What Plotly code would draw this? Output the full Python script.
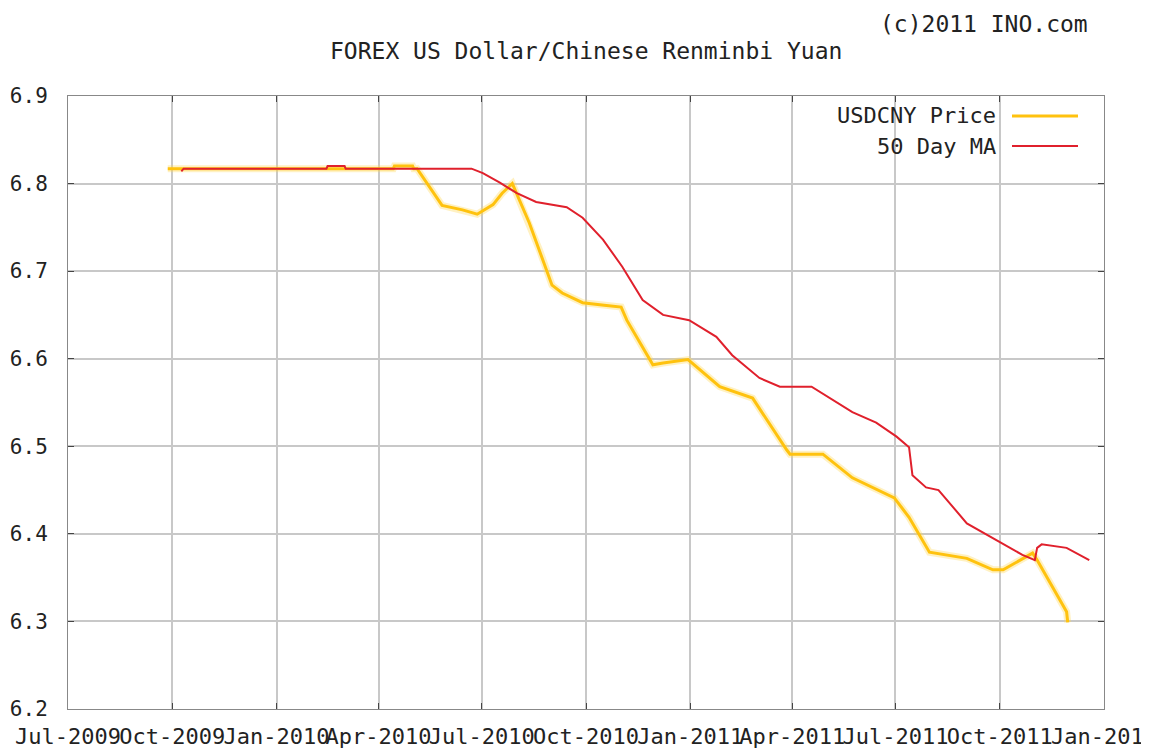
import plotly.graph_objects as go

# ---- data ----
price_dates = ["2009-09-27", "2010-04-14", "2010-04-15", "2010-05-01", "2010-05-02", "2010-05-05",
               "2010-05-27", "2010-06-14", "2010-06-27", "2010-07-11", "2010-07-19", "2010-07-28",
               "2010-08-12", "2010-08-21", "2010-09-01", "2010-09-10", "2010-09-28", "2010-10-17",
               "2010-11-01", "2010-11-06", "2010-11-29", "2010-12-08", "2010-12-30", "2011-01-27",
               "2011-02-25", "2011-03-27", "2011-03-30", "2011-04-28", "2011-05-24", "2011-06-30",
               "2011-07-13", "2011-07-31", "2011-09-02", "2011-09-25", "2011-10-04", "2011-10-30",
               "2011-11-03", "2011-11-29", "2011-11-30"]
price_values = [6.817, 6.817, 6.820, 6.820, 6.817, 6.817,
                6.775, 6.770, 6.765, 6.776, 6.789, 6.800,
                6.755, 6.724, 6.684, 6.675, 6.664, 6.661,
                6.659, 6.644, 6.593, 6.595, 6.599, 6.568,
                6.555, 6.496, 6.491, 6.491, 6.464, 6.441,
                6.419, 6.379, 6.372, 6.359, 6.359, 6.378,
                6.370, 6.311, 6.299]

ma_dates = ["2009-10-09", "2009-10-11", "2010-02-14", "2010-02-15", "2010-03-02", "2010-03-03",
            "2010-06-22", "2010-07-02", "2010-07-17", "2010-08-01", "2010-08-18", "2010-09-14",
            "2010-09-28", "2010-10-16", "2010-11-02", "2010-11-20", "2010-12-08", "2010-12-31",
            "2011-01-24", "2011-02-07", "2011-03-03", "2011-03-21", "2011-04-18", "2011-05-07",
            "2011-05-24", "2011-06-14", "2011-07-02", "2011-07-13", "2011-07-16", "2011-07-28",
            "2011-08-08", "2011-09-02", "2011-10-01", "2011-10-21", "2011-11-01", "2011-11-03",
            "2011-11-07", "2011-11-29", "2011-12-19"]
ma_values = [6.814, 6.817, 6.817, 6.820, 6.820, 6.817,
             6.817, 6.812, 6.801, 6.789, 6.779, 6.773,
             6.761, 6.736, 6.705, 6.667, 6.650, 6.644,
             6.625, 6.604, 6.578, 6.568, 6.568, 6.553,
             6.539, 6.527, 6.511, 6.499, 6.467, 6.453,
             6.450, 6.412, 6.391, 6.376, 6.370, 6.384,
             6.388, 6.384, 6.370]

x_tick_dates = ["2009-07-01", "2009-10-01", "2010-01-01", "2010-04-01", "2010-07-01", "2010-10-01",
                "2011-01-01", "2011-04-01", "2011-07-01", "2011-10-01", "2012-01-01"]
x_tick_labels = ["Jul-2009", "Oct-2009", "Jan-2010", "Apr-2010", "Jul-2010", "Oct-2010",
                 "Jan-2011", "Apr-2011", "Jul-2011", "Oct-2011", "Jan-2012"]
y_tick_values = [6.2, 6.3, 6.4, 6.5, 6.6, 6.7, 6.8, 6.9]

title_text = "FOREX US Dollar/Chinese Renminbi Yuan"
credit_text = "(c)2011 INO.com"
series_names = ["USDCNY Price", "50 Day MA"]

YELLOW = "#ffc20e"
GLOW = "rgba(255,214,80,0.35)"
RED = "#e0202c"
FONT = "DejaVu Sans Mono"
TXT = "#222222"

fig = go.Figure()
fig.add_trace(go.Scatter(x=price_dates, y=price_values, mode="lines",
                         line=dict(color=GLOW, width=7), hoverinfo="skip", showlegend=False))
fig.add_trace(go.Scatter(x=price_dates, y=price_values, mode="lines", name=series_names[0],
                         line=dict(color=YELLOW, width=3), showlegend=False))
fig.add_trace(go.Scatter(x=ma_dates, y=ma_values, mode="lines", name=series_names[1],
                         line=dict(color=RED, width=2), showlegend=False))

axis_common = dict(showgrid=True, gridcolor="#c8c8c8", gridwidth=2,
                   showline=True, linecolor="#888888", linewidth=1, mirror="ticks",
                   ticks="inside", ticklen=6, tickcolor="#444444", tickwidth=1,
                   zeroline=False, automargin=False)

fig.update_xaxes(type="date", range=[x_tick_dates[0], x_tick_dates[-1]],
                 tickvals=x_tick_dates, ticktext=x_tick_labels, tickangle=0,
                 ticklabelstandoff=8, ticklabeloverflow="allow",
                 tickfont=dict(family=FONT, size=22, color=TXT),
                 **axis_common)
fig.update_yaxes(range=[6.2, 6.9], tickvals=y_tick_values,
                 ticktext=[f"{v:.1f}" for v in y_tick_values],
                 ticklabelstandoff=15, tickfont=dict(family=FONT, size=21, color=TXT),
                 **axis_common)

# legend drawn as text + line sample (text left of sample, like the original)
leg_rows = [(0.9674, YELLOW, 3), (0.9184, RED, 2)]
for (yp, col, w), name in zip(leg_rows, series_names):
    fig.add_annotation(x=0.8977, y=yp, xref="paper", yref="paper", text=name,
                       showarrow=False, xanchor="right", yanchor="middle",
                       font=dict(family=FONT, size=22, color=TXT))
    fig.add_shape(type="line", xref="paper", yref="paper", x0=0.9112, x1=0.9749, y0=yp, y1=yp,
                  line=dict(color=col, width=w))

fig.add_annotation(x=0.5, y=1.0734, xref="paper", yref="paper", text=title_text,
                   showarrow=False, xanchor="center", yanchor="middle",
                   font=dict(family=FONT, size=23, color=TXT))
fig.add_annotation(x=0.9865, y=1.1175, xref="paper", yref="paper", text=credit_text,
                   showarrow=False, xanchor="right", yanchor="middle",
                   font=dict(family=FONT, size=23, color=TXT))

# the page body adds an 8px offset, so the figure is sized to keep the plot box in place
fig.update_layout(width=1141, height=743, autosize=False,
                  margin=dict(l=60, r=45, t=88, b=42),
                  paper_bgcolor="white", plot_bgcolor="white",
                  showlegend=False)

fig.write_html("out.html")
